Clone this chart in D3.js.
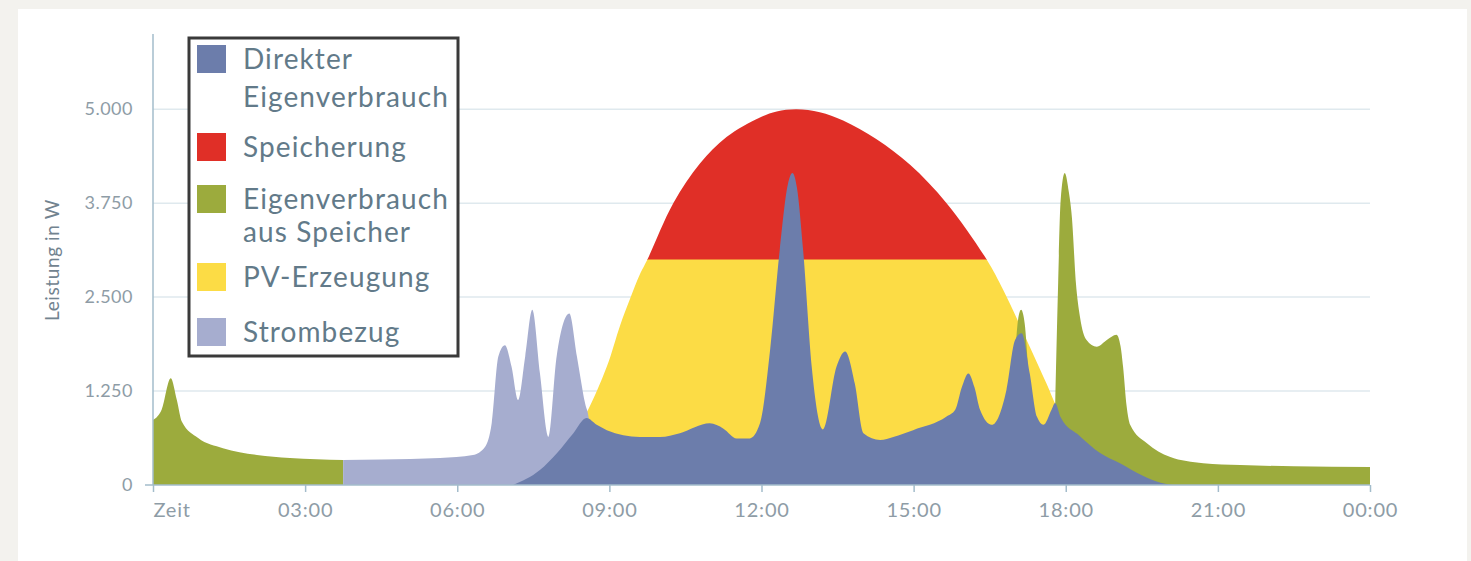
<!DOCTYPE html>
<html><head><meta charset="utf-8">
<script src="https://cdn.jsdelivr.net/npm/d3@7"></script>
<style>
html,body{margin:0;padding:0;background:#f3f2ee;}
svg{display:block;}
text{font-family:Lato,"Open Sans",sans-serif;}
</style></head><body>
<svg id="chart" width="1471" height="561"></svg>
<script>
// ---------- data ----------
const xTickHours  = [0, 3, 6, 9, 12, 15, 18, 21, 24];
const xTickLabels = ["Zeit", "03:00", "06:00", "09:00", "12:00", "15:00", "18:00", "21:00", "00:00"];
const yTickValues = [0, 1250, 2500, 3750, 5000];
const yTickLabels = ["0", "1.250", "2.500", "3.750", "5.000"];
const yTitle = "Leistung in W";

// PV-Erzeugung (total); the part above speicherGrenze is "Speicherung"
const pvHours = [7.0, 7.5, 8.0, 8.3, 8.55, 8.95, 9.21, 9.41, 9.6, 9.75, 10.26, 10.79, 11.31, 11.97, 12.3, 12.69, 13.15, 13.61, 14.27, 14.93, 15.65, 16.44, 16.77, 17.29, 17.62, 17.82, 18.2, 18.6, 19.2, 19.6];
const pvErzeugung = [0, 120, 420, 700, 960, 1575, 2120, 2480, 2800, 3000, 3750, 4280, 4630, 4890, 4970, 5000, 4960, 4850, 4600, 4260, 3750, 3000, 2590, 1840, 1350, 1040, 600, 300, 80, 0];
const speicherGrenze = 3000;

// Eigenverbrauch aus Speicher (null = gap)
const speicherHours = [0, 0.17, 0.35, 0.47, 0.57, 0.89, 1.38, 2.05, 2.7, 3.75, 3.76,
  16.99, 17.0, 17.06, 17.12, 17.19, 17.26, 17.27,
  17.78, 17.79, 17.85, 17.9, 17.98, 18.06, 18.12, 18.2, 18.28, 18.41, 18.61, 18.81, 19.0, 19.08, 19.13, 19.2, 19.27, 19.6, 20.05, 20.71, 21.44, 22.5, 24.0];
const eigenAusSpeicher = [865, 1000, 1420, 1130, 840, 625, 490, 400, 360, 333, null,
  null, 1700, 2200, 2330, 2150, 1500, null,
  null, 1000, 2680, 3790, 4150, 3900, 3570, 2690, 2240, 1930, 1840, 1930, 2000, 1850, 1575, 1050, 800, 555, 375, 290, 265, 250, 240];

// Strombezug
const bezugHours = [3.75, 4.5, 5.66, 6.31, 6.55, 6.68, 6.81, 6.94, 7.07, 7.2, 7.34, 7.48, 7.63, 7.8, 7.96, 8.21, 8.36, 8.52, 8.6, 8.65];
const strombezug = [333, 340, 360, 400, 510, 825, 1710, 1860, 1575, 1130, 1710, 2330, 1490, 640, 1710, 2280, 1710, 1090, 850, 0];

// Direkter Eigenverbrauch
const direktHours = [7.1, 7.63, 7.96, 8.29, 8.55, 8.75, 8.95, 9.6, 10.0, 10.39, 10.98, 11.25, 11.51, 11.77, 11.97, 12.17, 12.36, 12.52, 12.61, 12.7, 12.82, 12.99, 13.21, 13.48, 13.65, 13.84, 14.01, 14.34, 14.6, 14.99, 15.65, 15.82, 15.95, 16.08, 16.2, 16.31, 16.54, 16.83, 17.0, 17.13, 17.29, 17.43, 17.56, 17.72, 17.79, 17.9, 18.28, 18.67, 19.07, 19.5, 19.87, 20.1];
const direktVerbrauch = [0, 200, 420, 690, 890, 800, 730, 640, 640, 690, 820, 750, 620, 620, 820, 1800, 3130, 4000, 4150, 3950, 3130, 1575, 740, 1575, 1775, 1350, 690, 600, 640, 730, 910, 1000, 1300, 1485, 1300, 1000, 800, 1265, 1930, 2020, 1485, 910, 800, 1000, 1090, 900, 650, 430, 290, 130, 30, 0];

const legendItems = [
  {lines: ["Direkter", "Eigenverbrauch"], key: "direkt"},
  {lines: ["Speicherung"], key: "speicher"},
  {lines: ["Eigenverbrauch", "aus Speicher"], key: "ausSpeicher"},
  {lines: ["PV-Erzeugung"], key: "pv"},
  {lines: ["Strombezug"], key: "bezug"}
];

// ---------- style ----------
const colors = {direkt: "#6c7dab", speicher: "#e02f27", ausSpeicher: "#9cab3d", pv: "#fcdc45", bezug: "#a6adcf"};
const axisColor = "#a3bccb", gridColor = "#dfe9ee", labelColor = "#8e9ca6", legendText = "#627a89";

const svg = d3.select("#chart");
svg.append("rect").attr("x", 18).attr("y", 9).attr("width", 1449).attr("height", 560).attr("fill", "#ffffff");

const x = d3.scaleLinear().domain([0, 24]).range([153, 1370]);
const y = d3.scaleLinear().domain([0, 6000]).range([485, 34]);

// grid
svg.append("g").selectAll("line").data(yTickValues.filter(v => v > 0)).join("line")
  .attr("x1", x(0)).attr("x2", x(24)).attr("y1", d => y(d)).attr("y2", d => y(d))
  .attr("stroke", gridColor).attr("stroke-width", 1.5);

const zip = (hs, vs) => hs.map((h, i) => ({h, v: vs[i]}));
const area = d3.area().defined(d => d.v != null)
  .x(d => x(d.h)).y0(y(0)).y1(d => y(d.v)).curve(d3.curveMonotoneX);
const pvArea = d3.area().x(d => x(d.h)).y0(y(0)).y1(d => y(d.v)).curve(d3.curveCatmullRom.alpha(0.5));

const defs = svg.append("defs");
defs.append("clipPath").attr("id", "below").append("rect")
  .attr("x", x(0)).attr("width", x(24) - x(0)).attr("y", y(speicherGrenze)).attr("height", y(0) - y(speicherGrenze));
defs.append("clipPath").attr("id", "above").append("rect")
  .attr("x", x(0)).attr("width", x(24) - x(0)).attr("y", 0).attr("height", y(speicherGrenze) + 0.5);

const pvData = zip(pvHours, pvErzeugung);
svg.append("path").datum(pvData).attr("d", pvArea).attr("fill", colors.speicher).attr("clip-path", "url(#above)");
svg.append("path").datum(pvData).attr("d", pvArea).attr("fill", colors.pv).attr("clip-path", "url(#below)");
svg.append("path").datum(zip(speicherHours, eigenAusSpeicher)).attr("d", area).attr("fill", colors.ausSpeicher);
svg.append("path").datum(zip(bezugHours, strombezug)).attr("d", area).attr("fill", colors.bezug);
svg.append("path").datum(zip(direktHours, direktVerbrauch)).attr("d", area).attr("fill", colors.direkt);

// axes
svg.append("line").attr("x1", x(0)).attr("x2", x(0)).attr("y1", y(6000)).attr("y2", y(0))
  .attr("stroke", axisColor).attr("stroke-width", 1.5);
svg.append("line").attr("x1", x(0) - 8).attr("x2", x(24)).attr("y1", y(0)).attr("y2", y(0))
  .attr("stroke", axisColor).attr("stroke-width", 1.5);

const xAxis = d3.axisBottom(x).tickValues(xTickHours).tickSize(7).tickSizeOuter(0)
  .tickFormat((d, i) => xTickLabels[i]);
const gx = svg.append("g").attr("transform", `translate(0,${y(0)})`).call(xAxis);
gx.select(".domain").remove();
gx.selectAll(".tick line").attr("stroke", axisColor).attr("stroke-width", 1.5);
gx.selectAll(".tick text").attr("fill", labelColor).attr("font-size", 20).attr("dy", "1.1em")
  .attr("letter-spacing", 0.8).attr("font-family", "Lato");
gx.selectAll(".tick text").filter((d, i) => i === 0).attr("text-anchor", "start");

const yAxis = d3.axisLeft(y).tickValues(yTickValues).tickSize(0).tickPadding(20)
  .tickFormat((d, i) => yTickLabels[i]);
const gy = svg.append("g").attr("transform", `translate(${x(0)},0)`).call(yAxis);
gy.select(".domain").remove();
gy.selectAll(".tick text").attr("fill", labelColor).attr("font-size", 18).attr("letter-spacing", 0.5)
  .attr("font-family", "Lato");

svg.append("text").attr("transform", "translate(59,260) rotate(-90)").attr("text-anchor", "middle")
  .attr("fill", "#72838f").attr("font-size", 19).attr("letter-spacing", 0.6).text(yTitle);

// legend
const lg = svg.append("g");
lg.append("rect").attr("x", 189).attr("y", 38).attr("width", 269).attr("height", 318)
  .attr("fill", "#fff").attr("stroke", "#3a3a3a").attr("stroke-width", 3);
const itemTops = [45, 133, 185, 263, 318];
const lineGap = [38, 0, 33, 0, 0];
legendItems.forEach((it, i) => {
  lg.append("rect").attr("x", 197).attr("y", itemTops[i]).attr("width", 29).attr("height", 28)
    .attr("fill", colors[it.key]);
  it.lines.forEach((ln, j) => {
    lg.append("text").attr("x", 243).attr("y", itemTops[i] + 14 + j * lineGap[i]).attr("dy", "0.36em")
      .attr("fill", legendText).attr("font-size", 28).attr("letter-spacing", 1.1).text(ln);
  });
});
</script>
</body></html>
